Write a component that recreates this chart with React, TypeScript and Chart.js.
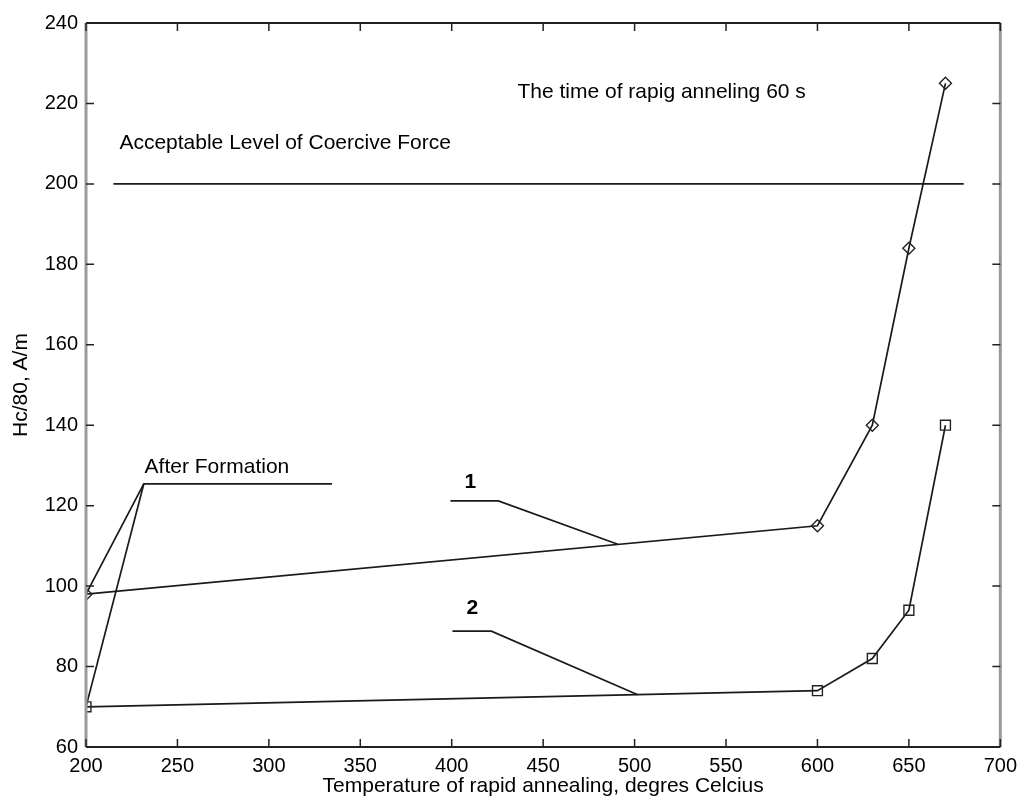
import { useEffect, useRef } from "react";
import { Chart, registerables } from "chart.js";
Chart.register(...registerables);

const FONT = '"Liberation Sans", Arial, Helvetica, sans-serif';

// Measured data
const temps = [200, 600, 630, 650, 670];
const series1 = [98, 115, 140, 184, 225];
const series2 = [70, 74, 82, 94, 140];

// Acceptable level line
const limitX = [215, 680];
const limitY = [200, 200];

// Leader lines (data coordinates)
const afterFormAX = [334.5, 231.6, 200];
const afterFormAY = [125.4, 125.4, 98];
const afterFormBX = [231.6, 200];
const afterFormBY = [125.4, 70];
const leader1X = [399.3, 425.5, 490.8];
const leader1Y = [121.2, 121.2, 110.4];
const leader2X = [400.4, 421.7, 501.7];
const leader2Y = [88.8, 88.8, 73.0];

// Text annotations
const noteTexts = [
  "The time of rapig anneling 60 s",
  "Acceptable Level of Coercive Force",
  "After Formation",
  "1",
  "2",
];
const noteX = [514.8, 308.9, 271.6, 410.2, 411.3];
const noteY = [222.8, 210.0, 129.5, 125.9, 94.5];
const noteBold = [false, false, false, true, true];

const xTitle = "Temperature of rapid annealing, degres Celcius";
const yTitle = "Hc/80, A/m";

const pts = (xs: number[], ys: number[]) => xs.map((x, i) => ({ x, y: ys[i] }));

const framePlugin = {
  id: "frame",
  afterDatasetsDraw(chart: any) {
    const { ctx, chartArea, scales } = chart;
    const { left, right, top, bottom } = chartArea;
    ctx.save();
    // texts
    ctx.fillStyle = "#000";
    ctx.textAlign = "center";
    ctx.textBaseline = "middle";
    noteTexts.forEach((t, i) => {
      ctx.font = `${noteBold[i] ? "bold " : ""}21px ${FONT}`;
      ctx.fillText(t, scales.x.getPixelForValue(noteX[i]), scales.y.getPixelForValue(noteY[i]));
    });
    // frame
    ctx.lineWidth = 3;
    ctx.strokeStyle = "#9a9a9a";
    ctx.beginPath();
    ctx.moveTo(left, top);
    ctx.lineTo(left, bottom);
    ctx.moveTo(right, top);
    ctx.lineTo(right, bottom);
    ctx.stroke();
    ctx.lineWidth = 2;
    ctx.strokeStyle = "#222";
    ctx.beginPath();
    ctx.moveTo(left, top);
    ctx.lineTo(right, top);
    ctx.moveTo(left, bottom);
    ctx.lineTo(right, bottom);
    ctx.stroke();
    // inward ticks
    const tl = 8;
    ctx.lineWidth = 1.5;
    ctx.beginPath();
    scales.x.ticks.forEach((t: any) => {
      const px = scales.x.getPixelForValue(t.value);
      ctx.moveTo(px, bottom);
      ctx.lineTo(px, bottom - tl);
      ctx.moveTo(px, top);
      ctx.lineTo(px, top + tl);
    });
    scales.y.ticks.forEach((t: any) => {
      const py = scales.y.getPixelForValue(t.value);
      ctx.moveTo(left, py);
      ctx.lineTo(left + tl, py);
      ctx.moveTo(right, py);
      ctx.lineTo(right - tl, py);
    });
    ctx.stroke();
    ctx.restore();
  },
};

export default function App() {
  const ref = useRef<HTMLCanvasElement>(null);
  useEffect(() => {
    const line = (label: string, xs: number[], ys: number[]) => ({
      label,
      data: pts(xs, ys),
      showLine: true,
      borderColor: "#1a1a1a",
      borderWidth: 1.7,
      pointRadius: 0,
      pointHoverRadius: 0,
      fill: false,
      tension: 0,
    });
    const chart = new Chart(ref.current as HTMLCanvasElement, {
      type: "scatter",
      data: {
        datasets: [
          line("limit", limitX, limitY),
          line("afA", afterFormAX, afterFormAY),
          line("afB", afterFormBX, afterFormBY),
          line("l1", leader1X, leader1Y),
          line("l2", leader2X, leader2Y),
          {
            ...line("1", temps, series1),
            pointStyle: "rectRot",
            pointRadius: 6,
            pointBorderColor: "#222",
            pointBackgroundColor: "rgba(255,255,255,0)",
            pointBorderWidth: 1.4,
          },
          {
            ...line("2", temps, series2),
            pointStyle: "rect",
            pointRadius: 7,
            pointBorderColor: "#222",
            pointBackgroundColor: "rgba(255,255,255,0)",
            pointBorderWidth: 1.4,
          },
        ],
      } as any,
      options: {
        animation: false,
        responsive: false,
        devicePixelRatio: 1,
        layout: { padding: { top: 23, right: 20, left: 0, bottom: 0 } },
        plugins: { legend: { display: false }, tooltip: { enabled: false } },
        scales: {
          x: {
            type: "linear",
            min: 200,
            max: 700,
            ticks: {
              stepSize: 50,
              color: "#000",
              font: { family: FONT, size: 20 },
              padding: 7,
              maxRotation: 0,
              autoSkip: false,
            },
            grid: { display: false, drawTicks: false, tickLength: 0 },
            border: { display: false },
            title: {
              display: true,
              text: xTitle,
              color: "#000",
              font: { family: FONT, size: 21 },
              padding: { top: 0, bottom: 6 },
            },
            afterFit: (s: any) => {
              s.height = 58;
            },
          },
          y: {
            type: "linear",
            min: 60,
            max: 240,
            ticks: {
              stepSize: 20,
              color: "#000",
              font: { family: FONT, size: 20 },
              padding: 8,
            },
            grid: { display: false, drawTicks: false, tickLength: 0 },
            border: { display: false },
            title: {
              display: true,
              text: yTitle,
              color: "#000",
              font: { family: FONT, size: 21 },
              padding: { top: 9, bottom: 0 },
            },
            afterFit: (s: any) => {
              s.width = 86;
            },
          },
        },
      } as any,
      plugins: [framePlugin],
    });
    return () => chart.destroy();
  }, []);
  return (
    <div style={{ position: "absolute", left: 0, top: 0, width: 1024, height: 805, background: "#fff" }}>
      <canvas ref={ref} width={1024} height={805} style={{ display: "block" }} />
    </div>
  );
}
